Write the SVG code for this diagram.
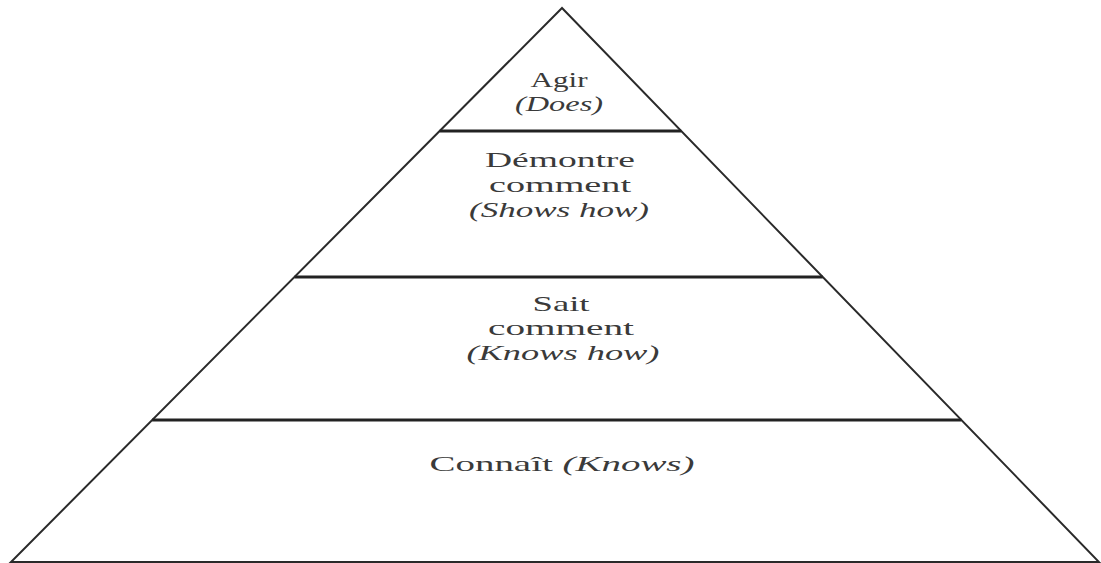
<svg xmlns="http://www.w3.org/2000/svg" width="1101" height="563" viewBox="0 0 1101 563">
  <style>
    .edge { fill: none; stroke: #2a2a2a; stroke-width: 2; stroke-linejoin: miter; }
    .div { stroke: #222; stroke-width: 3; }
    .t { font-family: "Liberation Serif", "Times New Roman", serif; font-size: 21px; fill: #3a3a3a; text-anchor: middle; }
    .i { font-style: italic; }
  </style>
  <rect x="0" y="0" width="1101" height="563" fill="#ffffff"/>
  <g id="pyramid">
    <polygon class="edge" points="562,8 11,562 1099,562"/>
  </g>
  <g id="connectors">
    <line class="div" x1="439.7" y1="131" x2="681.2" y2="131"/>
    <line class="div" x1="294.5" y1="277" x2="822.7" y2="277"/>
    <line class="div" x1="152.2" y1="420" x2="961.4" y2="420"/>
  </g>
  <g id="agir">
    <text class="t" x="559" y="87" textLength="57" lengthAdjust="spacingAndGlyphs">Agir</text>
    <text class="t i" x="559" y="111" textLength="88" lengthAdjust="spacingAndGlyphs">(Does)</text>
  </g>
  <g id="demontre">
    <text class="t" x="560" y="167" textLength="150" lengthAdjust="spacingAndGlyphs">Démontre</text>
    <text class="t" x="560" y="192" textLength="142" lengthAdjust="spacingAndGlyphs">comment</text>
    <text class="t i" x="559" y="217" textLength="180" lengthAdjust="spacingAndGlyphs">(Shows how)</text>
  </g>
  <g id="sait">
    <text class="t" x="561" y="311" textLength="57" lengthAdjust="spacingAndGlyphs">Sait</text>
    <text class="t" x="561" y="335" textLength="146" lengthAdjust="spacingAndGlyphs">comment</text>
    <text class="t i" x="563" y="360" textLength="193" lengthAdjust="spacingAndGlyphs">(Knows how)</text>
  </g>
  <g id="connait">
    <text class="t" x="562" y="471" textLength="265" lengthAdjust="spacingAndGlyphs">Connaît <tspan class="i">(Knows)</tspan></text>
  </g>
</svg>
